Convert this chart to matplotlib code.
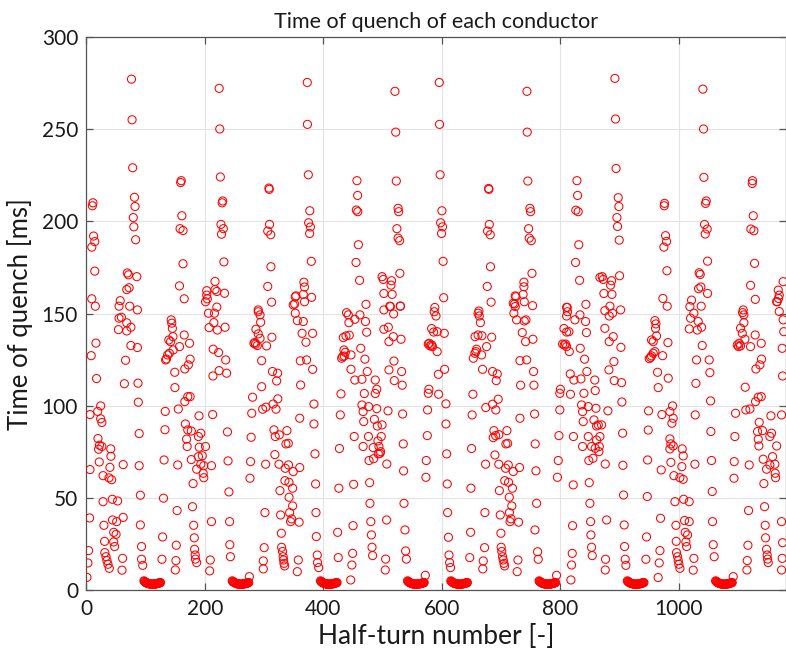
import matplotlib
matplotlib.use("Agg")
import matplotlib.pyplot as plt

# (half-turn, quench time [ms]) for each of the eight blocks of half-turns
block1 = [
    (11, 210), (10, 208.4), (76, 277), (77, 255), (78, 229), (81, 213), (82, 208), (79, 202), (80, 197),
    (83, 190), (12, 192), (14, 189), (9, 186), (14, 173), (9, 158), (15, 154), (69, 172), (71, 171),
    (85, 170), (68, 163), (72, 164), (57, 157), (55, 154), (73, 154), (86, 152),
    (55, 147.5), (59, 148), (54, 141.3), (68, 145), (68, 140.6), (75, 142.6), (16, 134), (8, 127.2),
    (75, 132.7), (86, 131.6), (66, 124.7), (17, 114.8), (64, 112), (87, 112.3), (87.5, 102), (24, 100),
    (6, 95.3), (19, 97), (24, 93), (26, 91), (19.4, 82.3), (22, 78.7), (26, 78), (20.5, 76.5), (41, 76.7),
    (41.3, 72.7), (21.6, 69.6), (39.6, 66.7), (6, 65.5), (62, 68.2), (28, 62.2), (38, 61), (42.5, 60),
    (89, 85), (89, 67.6), (91, 51.6), (28, 48.1), (43.6, 49.4), (52.6, 48.5), (5.3, 39.3), (44, 38.2),
    (51, 37.3), (62, 39.6), (29.5, 35.3), (46, 31.5), (50, 30.4), (30.6, 26.6), (46, 26.3), (47.5, 23.8),
    (3.6, 21.6), (31, 20.5), (33, 18.3), (34.6, 16.2), (36.3, 14.2), (38.5, 12), (2.5, 14.9), (61, 17.4),
    (60, 11), (0.8, 7.1), (91, 35.5), (93, 23.8), (93, 16.9), (95, 13.6),
    (133, 97), (132.5, 87.1), (131, 70.7), (130, 50), (128.5, 29), (127.4, 16.9), (143, 146.6),
    (144, 144.8), (145, 142), (146, 137.5), (139, 135.7), (142, 134.8), (146.5, 130.3), (135, 125.4),
    (137, 127.6), (140, 128.5), (133.6, 124.9),
]

block2 = [
    (160, 222), (159, 221), (161, 203), (158, 196), (163, 195), (163, 177), (157, 165), (165, 158),
    (224, 272), (225, 250), (226, 224), (230, 211), (229, 210), (227, 198.3), (231, 196), (228, 193),
    (232, 178), (217, 167.4), (203, 162.4), (203, 160), (204, 158), (201, 156.4), (217, 163), (220, 162),
    (233, 161), (220, 153.5), (290, 152),
    (157, 132.1), (165, 138.4), (174, 133.9), (175, 125.3), (172, 122.2), (166, 120), (149, 118.2),
    (149.3, 109.9), (175, 105), (171, 105), (166, 102.3), (155, 98.3), (190, 94.6), (167, 90.2), (171, 87),
    (177, 86.4), (169, 82), (189, 83.4), (193, 85.2), (170, 78), (190.4, 77.6), (201, 78), (177, 70.9),
    (186, 65.7), (189, 72.5), (195.5, 73), (193, 68.4), (198, 67.6), (197, 63.5), (198, 61.1), (180, 57.9),
    (154, 68), (153, 43.3), (179, 45.4), (181, 35.3), (182, 28.5), (182.5, 22.3), (183.6, 19.2), (184, 17),
    (186, 15.1), (151, 16.2), (150, 11.1), (151.6, 24.5),
    (206, 150.2), (216, 150.2), (215, 145.1), (207, 142.4), (221, 141.1), (234, 142.6), (214, 130.7),
    (223, 128.9), (235, 124.9), (213.5, 116.2), (224, 119.1), (236.5, 117.7), (213, 95.3), (238, 85.9),
    (211, 67.6), (239, 70.2), (240.5, 53.4), (211, 37.3), (241.6, 37.3), (242, 24.8), (243, 18.3),
    (209, 16.5), (208, 10.6), (275, 7.5), (280.4, 104.7), (279, 96), (278, 83), (277, 69.8), (276, 60.8),
    (290, 151), (293, 149.3), (286, 141.5), (290, 139), (293, 136.6), (282.7, 133.9), (285.5, 133.4),
    (288.4, 132.7), (284.4, 134.3),
]

block3 = [
    (308, 218), (308.6, 217.3), (309, 198.3), (306, 194.7), (311, 192.7), (311.4, 175.4), (306, 164.7),
    (312.5, 156.2), (372.7, 275.2), (373, 252.5), (374.5, 225.2), (377, 205.7), (375, 199.2), (378, 196.9),
    (376.7, 193.4), (379.5, 178.3), (367, 167), (368, 164.4), (353.6, 159.6), (352.5, 159.1), (366, 160.4),
    (380, 158.8), (368, 156.4), (351.4, 155.2),
    (349, 154.7), (352.5, 150.2), (356, 146.2), (366, 145.7), (364, 139.3), (381.7, 139.3), (370.5, 134.5),
    (294, 145.3), (304, 132.5), (313, 137.2), (295.7, 124.5), (361, 124.4), (371.6, 124.9), (381.8, 119.8),
    (314, 118.6), (322.7, 117.7), (321, 113.5), (295.7, 110.4), (361.5, 111.3), (323, 103.8), (315, 101),
    (303, 99.3), (297.4, 98.2), (320, 98.2), (384, 101), (360, 93.3), (384, 90.2), (316.5, 87),
    (318.7, 83.4), (325.5, 84.3), (338.4, 86.6), (336.7, 79.4), (340.7, 79.7), (318, 73.6), (385.7, 74),
    (302.4, 68.4), (325, 68.4), (335.6, 66.2), (341, 68), (349, 64.4), (360, 66.6), (335, 59.5),
    (341.8, 58.6), (326.6, 54.1), (348, 55.4), (386.8, 57.7), (342, 50.5), (348, 45.8), (301.3, 42.2),
    (343, 42.2), (327.7, 40.9), (387.4, 42.2), (346.3, 38.8), (344.6, 37.3), (359, 37), (329, 31),
    (388, 29.2), (300, 23.2), (329.4, 23.4), (331, 21.1), (332, 18.3), (332.8, 16.5), (333.4, 14.7),
    (334.5, 13.3), (298.5, 16), (298.5, 11.7), (357.6, 16.5), (355.9, 10.2), (389.6, 19.2), (390, 15.1),
    (392, 12.4), (424, 31.5), (425, 17.8), (428.5, 95.1), (429.6, 106.5), (427, 76.9), (426, 55.4),
    (439, 150.5), (433.5, 137), (438, 137.9), (434.6, 130.3), (437, 129), (430.7, 125.8), (432.4, 126.7),
    (435.2, 127),
]

block4 = [
    (456.6, 222), (457.7, 214), (455.5, 206.1), (458, 205.2), (459, 187.3), (455, 177.7), (461, 168),
    (471.8, 155), (520.7, 270.4), (522, 248.3), (523, 221.8), (526, 207), (527, 205.2), (524, 196),
    (526, 190.9), (528.6, 189.5), (529, 171.8), (499, 170), (501, 168.5), (515, 167.8), (514, 165.4),
    (502, 160.9), (516, 160.4), (512, 154), (530, 154), (502, 152),
    (442, 149.3), (443, 145.1), (453, 146.9), (461.6, 149.3), (471, 145.7), (473, 139.9), (443.6, 138.3),
    (446.5, 127.6), (463, 131.2), (470, 125.3), (446.5, 119.8), (474, 118.6), (453, 114), (465, 114.4),
    (487.5, 114), (490, 109), (487.5, 106.7), (469, 106.7), (465, 100.5), (476.3, 99.6), (490, 98.5),
    (467, 96.9), (468, 91.5), (486, 92.7), (491, 89.1), (499, 89.7), (452, 83.4), (476, 83.4),
    (497.6, 83.4), (467, 78), (484, 77.4), (492, 81), (493.7, 78), (496.5, 75.2), (495.4, 74.3),
    (492.6, 74), (484.7, 71.4), (477, 70.4), (451, 57.5), (478, 58.4), (478.5, 47.2), (450, 35.1),
    (480, 37.3), (481, 30.1), (482, 23.4), (483, 18.9), (449.3, 20.1), (448, 13.8), (446, 5.7),
    (502, 141.5), (509.5, 142.6), (518, 137.5), (531, 136.1), (510.6, 134.8), (513, 153.8),
    (518.5, 149.8), (529.7, 154.1), (519, 124.3), (510.6, 119.5), (519.6, 113.7), (532, 118.6),
    (533, 111.2), (509, 97.3), (533.6, 95.6), (534.8, 79.4), (507, 68.5), (535.3, 64.8), (536, 47.2),
    (506.6, 38.2), (537.6, 32.8), (538.7, 21.4), (540, 17), (505, 17), (504.4, 11.1),
    (587, 151), (582.6, 141.9), (586, 140), (577, 133.5), (580, 132.5), (582.6, 133), (584, 132.1),
    (578.6, 133.9), (578, 109), (577, 106.8), (575.8, 97.8), (575.3, 83.9), (573.6, 70.4), (573, 61.3),
    (572, 8.2),
]

block5 = [
    (595.5, 275.2), (596, 252.5), (597, 225.2), (600, 205.7), (597.8, 199.2), (601, 197), (599.4, 193.4),
    (602, 178.3), (603, 158.6), (588, 153.3), (590, 148.7), (678.8, 217.8), (679.3, 217.3), (680, 198.3),
    (677, 194.7), (681.6, 192.7), (682, 175.4), (676.5, 164.7), (683, 156.2), (662.5, 151.4),
    (592, 140.2), (604, 139.3), (592, 129.4), (604.5, 119.8), (594, 117.1), (594.4, 106.3), (606.8, 101.1),
    (606.8, 90.2), (608, 74), (609, 57.7), (609.6, 42.2), (611, 28.8), (612, 19.2), (613, 15.1),
    (614.6, 12.4),
    (661, 150.2), (663, 148.7), (665, 145.1), (656, 137.5), (661, 138.4), (667.5, 138), (684, 137.2),
    (658.5, 130.7), (655.7, 128.5), (653, 125.8), (657.4, 129.4), (667, 127.6), (675.4, 132.1),
    (668.6, 119.8), (685.5, 118.6), (693.4, 117.3), (691.7, 113.7), (652.3, 106.3), (695, 103.6),
    (685.5, 100.9), (674, 99.1), (691, 97.8), (651, 95.1), (687.8, 86.6), (690.6, 83.9), (686.6, 82.8),
    (696, 84.4), (709.7, 86.6), (708, 79.4), (711, 79.7), (650, 76.9), (689.5, 73.4), (673.7, 68.4),
    (696, 68.4), (707.5, 66.2), (712, 68), (720.4, 64.4), (731, 66.6), (706, 59.5), (712.5, 58.6),
    (697, 54.1), (719, 55.4), (649, 55.4), (713.7, 50.5), (718, 45.8), (672.6, 42.2), (698.5, 40.9),
    (714, 42.2), (716.5, 38.8), (715, 37.3), (729.4, 37), (648.4, 31.5), (699.6, 31), (672, 23.2),
    (700, 23.4), (701, 21.1), (702.4, 18.3), (703.5, 16.5), (704.7, 14.7), (705.8, 13.3), (647, 17.8),
    (669.8, 16), (669, 11.7), (728.3, 16.5), (727, 10.2),
    (723.8, 159.6), (725, 159.1), (722.7, 155.2), (720.4, 155.6), (723.8, 153.8), (721.5, 150.2),
    (726, 146.6), (735.6, 139.7), (731.7, 124.5), (732.8, 111.2), (731.7, 93.3),
]

block6 = [
    (743.5, 270.4), (744, 248.3), (745, 221.8), (748.5, 207), (749.7, 205.2), (746.3, 196), (747.4, 190.9),
    (750.8, 189.5), (752, 171.8), (738.4, 167), (738.4, 164.5), (737, 160.4), (739, 156.4), (753, 154.3),
    (827.9, 222), (829, 214), (826, 206), (830, 205.2), (831, 187.3), (825.6, 177.7), (832.4, 168),
    (843, 155), (811.5, 153.3), (866.7, 169.6),
    (739, 146), (741.8, 146.6), (743, 124.9), (741.2, 134.8), (761.5, 21), (762.6, 16.9), (757, 32.8),
    (759.8, 47.2), (758.7, 64.8), (757.5, 79.4), (756.4, 95.6), (755.3, 111.2), (754.7, 118.6),
    (753.6, 136.1),
    (793.5, 8.2), (810.4, 153.4), (812, 151), (810.4, 148.7), (806, 141.9), (810.4, 140), (814.4, 140.2),
    (803.7, 133.5), (806.5, 133), (808.7, 133.5), (810.4, 132.1), (815, 129.4), (824.5, 146.6),
    (833, 149.3), (842.5, 145.7), (844, 139.7), (833.5, 131.2), (840.8, 125.3), (816.6, 117.3),
    (822.8, 114), (834.6, 114.6), (844.7, 118.6), (858, 114), (800, 109), (799, 106.8), (817, 106.3),
    (839.7, 106.8), (858.8, 108.3), (835.7, 100.5), (837.4, 96.9), (847, 99.6), (860, 98.7), (799, 97.8),
    (838.5, 91.5), (856.6, 92.4), (861, 89.1), (822, 83.4), (847, 83.4), (861, 81.5), (797.5, 83.9),
    (837.4, 78), (852.6, 78), (858.8, 77), (855, 71.6), (848, 70.4), (796.4, 70.4), (795, 61.3),
    (821.7, 57.2), (848.7, 58.4), (849.8, 47.2), (820.5, 35.1), (851, 37.3), (851.5, 30.1), (852.6, 23.4),
    (853.7, 18.9), (820, 20.1), (818.9, 13.8), (817.7, 5.7),
    (863.9, 89.7), (869.5, 89.7), (866.7, 83.4), (865.6, 78), (865, 75.2), (875, 151.6), (875, 142),
    (880.2, 97.3), (875.7, 68.5), (878, 38.2), (876.2, 16.9), (875.7, 11.1), (870.6, 170), (872.3, 168.5),
    (873.4, 160.9),
]

block7 = [
    (892, 277.4), (893, 255.4), (894, 228.6), (897.6, 212.8), (898.7, 208), (895.4, 202), (896.5, 197.2),
    (899.3, 189.8), (886.4, 167.8), (884.7, 165.4), (899.9, 170.5), (887, 160.4), (883.6, 154),
    (901.6, 152), (975.8, 209.7), (975.3, 208.4), (977.5, 192.2), (979.2, 189.1), (974.7, 186),
    (979.8, 173.2), (973, 158.2), (980.3, 154),
    (888, 150.2), (882.4, 148.7), (889.2, 137.5), (882.4, 134.8), (902.1, 131.7), (890.3, 124),
    (881.9, 119.5), (890.9, 113.7), (903.2, 112.6), (903.8, 102.1), (905, 85.2), (905.5, 67.8),
    (906.6, 51.7), (907.7, 35.5), (908.3, 23.8), (909.4, 16.9), (910.5, 13.6),
    (965, 7), (959.5, 146.2), (961.2, 144.4), (960.6, 142), (962.3, 137.9), (953.9, 135.7), (956.7, 134.8),
    (981.5, 134.3), (956.7, 128.5), (953.9, 127.1), (950, 125.6), (952.2, 126.3), (959.5, 129.4),
    (972.5, 127.2), (964, 118.2), (982, 115), (965.1, 109.9), (989.3, 100), (984.8, 96.9), (990.4, 93.3),
    (988.2, 90.6), (971.3, 95.3), (948.8, 97.3), (948.3, 86.9), (984.8, 82.1), (986.5, 79.4),
    (984.8, 76.7), (990.4, 78.3), (1005.6, 76.7), (947.2, 70.7), (1007.3, 72.9), (986.5, 69.4),
    (1005, 67.1), (970.2, 65.3), (991.6, 62.2), (1001.7, 61.1), (1007.3, 60.2), (946.6, 50.9),
    (993.3, 48.1), (1008, 49.4), (1017.4, 48.1), (969, 39.1), (995, 35.3), (1009.6, 37.9), (1017.4, 37.3),
    (945.4, 29), (1010.7, 31.5), (1014.6, 30.1), (995.5, 26.6), (1011.8, 26.3), (1013, 23.8), (968, 21.6),
    (996, 20.5), (997.8, 18.3), (998.9, 16.2), (1000, 14.2), (1001.7, 12), (966.8, 14.9), (1025.3, 17.4),
    (1024.2, 11), (944.3, 16.9),
    (1018.6, 153.8), (1019.7, 147.5), (1025.3, 150.2), (1021.4, 157.3), (1017.5, 141.7), (1027.6, 95.1),
    (1028.7, 112.2), (1027, 68.4),
]

block8 = [
    (1032.6, 145.7), (1031, 141.1), (1038.3, 142.6), (1039.4, 132.7), (1029.8, 124.9),
    (1040.5, 271.6), (1041.6, 250), (1042.2, 223.8), (1046.2, 211), (1045, 209.7), (1043.3, 198.3),
    (1047.8, 195.8), (1044.5, 193.1), (1048.4, 178.4), (1034.3, 172.1), (1036, 171.2), (1048.4, 160.9),
    (1033.2, 163.5), (1037.1, 164.4), (1037.7, 154), (1108.6, 152), (1124.3, 222), (1123.8, 220.5),
    (1125.5, 203), (1121.5, 195.8), (1126.6, 194.9), (1127.7, 177.2), (1121, 165.3), (1129, 157.7),
    (1167.7, 162.7), (1169.4, 160), (1168.2, 158.2), (1166, 156.4), (1176, 167.3),
    (1051.2, 124.9), (1052.3, 118), (1053.5, 102.7), (1054, 86.1), (1055.1, 70.4), (1056.3, 53.6),
    (1056.8, 37.3), (1058, 24.8), (1059.6, 18.3), (1091.7, 7.5), (1107.5, 150.5), (1109.7, 149.3),
    (1109.7, 145.1), (1104.1, 142.1), (1107, 139.3), (1111.4, 136.1), (1098.5, 133), (1101.8, 133.9),
    (1104, 132.5), (1100.7, 132.1), (1121, 132.1), (1128.8, 138.4), (1139, 133.9), (1139.5, 125.3),
    (1136.7, 122.2), (1130, 120), (1112, 110.1), (1139, 105), (1134, 104.7), (1129.4, 102.3),
    (1119.9, 98.3), (1113, 97.8), (1095.6, 96), (1155.3, 94.6), (1135.6, 91.1), (1141.2, 86.6),
    (1132.8, 86.1), (1134, 81.9), (1135, 78.3), (1153.6, 83.4), (1156.4, 85.2), (1165, 78.3),
    (1094.5, 83.4), (1093.4, 69.8), (1118.7, 68), (1142.3, 71.1), (1148, 65.7), (1158.1, 72.5),
    (1153.6, 68), (1162, 68.4), (1162.6, 63.5), (1163.2, 61.1), (1143.5, 57.9), (1093, 60.8),
    (1117.6, 43.3), (1144.6, 45.4), (1145.7, 35.3), (1146.3, 28.5), (1148, 22.3), (1149, 19.2),
    (1149.7, 17), (1150.8, 15.1), (1116.5, 24.5), (1115.4, 16.2), (1114.8, 11.1), (1173.3, 37.3),
    (1174.4, 17.4), (1173.3, 11.1), (1175, 25.9), (1165, 156.5), (1169.4, 151.1), (1176, 146.6),
    (1177, 140.2), (1174.4, 131.2), (1175, 116.2), (1173.3, 95.1),
]

# the early-quenching groups sitting just above zero: first half-turn of each group,
# offsets of the following half-turns and their quench times
cluster_start = [97, 246, 395, 542, 615, 764, 913, 1062]
cluster_offset = [0, 1, 2, 3, 4, 5, 6, 7, 8, 9, 10, 11, 12, 13, 14,
                  15, 16, 17, 18, 19, 20, 21, 22, 23, 24, 25, 26, 27, 28]
cluster_time = [5.2, 4.9, 4.6, 4.4, 4.2, 4.0, 3.9, 3.8, 3.7, 3.6, 3.5, 3.5, 3.4, 3.4, 3.4,
                3.4, 3.4, 3.4, 3.5, 3.5, 3.6, 3.6, 3.7, 3.8, 3.9, 4.0, 4.1, 4.2, 4.3]

blocks = [block1, block2, block3, block4, block5, block6, block7, block8]

plt.rcParams['font.family'] = ['Lato', 'DejaVu Sans']

fig = plt.figure(figsize=(7.86, 6.66), dpi=100)
ax = fig.add_axes([0.110, 0.1134, 0.8894, 0.8315])

marker_kw = dict(s=34, facecolors='none', edgecolors='#ff0000', linewidths=0.75, zorder=3)

for block in blocks:
    xs = [p[0] for p in block]
    ys = [p[1] for p in block]
    ax.scatter(xs, ys, **marker_kw)

for start in cluster_start:
    xs = [start + off for off in cluster_offset]
    ax.scatter(xs, cluster_time, **marker_kw)

ax.set_xlim(0, 1180)
ax.set_ylim(0, 300)
ax.set_xticks([0, 200, 400, 600, 800, 1000])
ax.set_yticks([0, 50, 100, 150, 200, 250, 300])

# MATLAB-like box: inward ticks on all sides, light grid
ax.grid(True, color='#e3e3e3', linewidth=0.8, zorder=0)
ax.set_axisbelow(True)
for side in ['left', 'bottom', 'top', 'right']:
    ax.spines[side].set_color('#555555')
    ax.spines[side].set_linewidth(0.9)
ax.tick_params(direction='in', length=5, width=0.9, color='#555555',
               top=True, right=True, labelsize=15, labelcolor='#1a1a1a', pad=6)

ax.set_xlabel('Half-turn number [-]', fontsize=19, color='#1a1a1a', labelpad=4)
ax.set_ylabel('Time of quench [ms]', fontsize=18.5, color='#1a1a1a', labelpad=6)
ax.set_title('Time of quench of each conductor', fontsize=15.5, color='#1a1a1a', pad=6)

fig.savefig('out.png', dpi=100)
